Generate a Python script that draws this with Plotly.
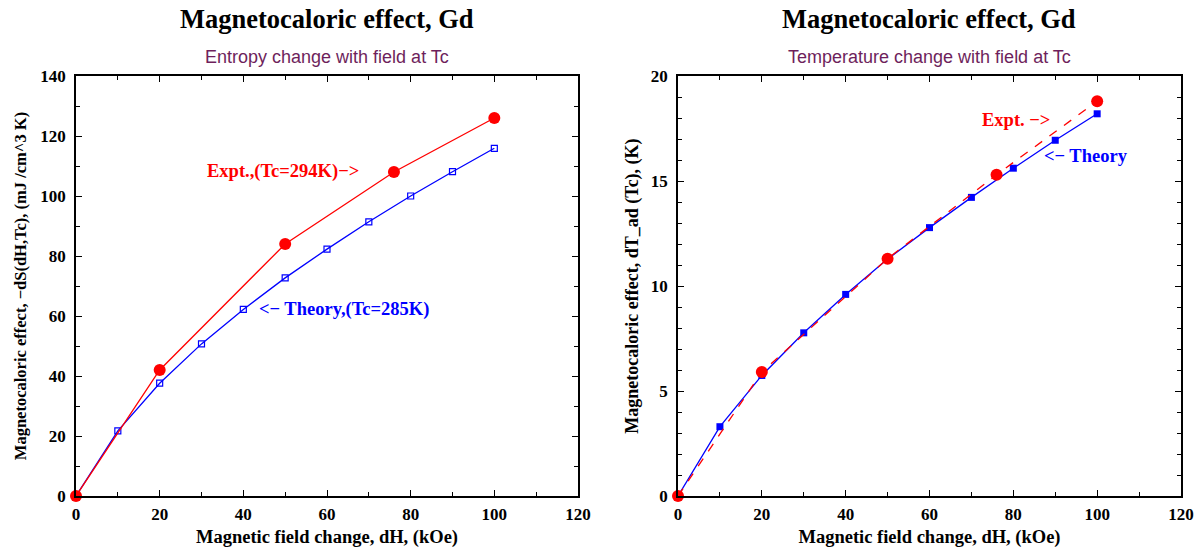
import plotly.graph_objects as go

# ---------------- data ----------------
# Left panel: entropy change -dS (mJ/cm^3 K) vs field change (kOe)
expt_dS_field = [0, 20, 50, 76, 100]
expt_dS = [0, 42, 84, 108, 126]
theory_dS_field = [0, 10, 20, 30, 40, 50, 60, 70, 80, 90, 100]
theory_dS = [0, 21.7, 37.6, 50.7, 62.2, 72.7, 82.3, 91.4, 100.0, 108.1, 115.9]

# Right panel: adiabatic temperature change dT_ad (K) vs field change (kOe)
expt_dT_field = [0, 20, 50, 76, 100]
expt_dT = [0, 5.9, 11.3, 15.3, 18.8]
theory_dT_field = [0, 10, 20, 30, 40, 50, 60, 70, 80, 90, 100]
theory_dT = [0, 3.3, 5.74, 7.77, 9.6, 11.28, 12.78, 14.22, 15.61, 16.94, 18.2]

RED = "#ff0000"
BLUE = "#0000ff"
PURPLE = "#6e1f5c"
SERIF = "Liberation Serif"
SANS = "Liberation Sans"

W, H = 1204, 548
ML, MR, MT, MB = 76, 23, 76, 52
PW = W - ML - MR
PH = H - MT - MB

fig = go.Figure()

fig.add_trace(go.Scatter(x=theory_dS_field, y=theory_dS, mode="lines+markers",
                         line=dict(color=BLUE, width=1.3),
                         marker=dict(symbol="square-open", size=6, color=BLUE, line=dict(width=1.2)),
                         xaxis="x", yaxis="y", cliponaxis=False, showlegend=False))
fig.add_trace(go.Scatter(x=expt_dS_field, y=expt_dS, mode="lines+markers",
                         line=dict(color=RED, width=1.3),
                         marker=dict(symbol="circle", size=12, color=RED),
                         xaxis="x", yaxis="y", cliponaxis=False, showlegend=False))
fig.add_trace(go.Scatter(x=theory_dT_field, y=theory_dT, mode="lines+markers",
                         line=dict(color=BLUE, width=1.3),
                         marker=dict(symbol="square", size=7, color=BLUE),
                         xaxis="x2", yaxis="y2", cliponaxis=False, showlegend=False))
fig.add_trace(go.Scatter(x=expt_dT_field, y=expt_dT, mode="lines+markers",
                         line=dict(color=RED, width=1.3, dash="dash"),
                         marker=dict(symbol="circle", size=12, color=RED),
                         xaxis="x2", yaxis="y2", cliponaxis=False, showlegend=False))

tickfont = dict(family=SERIF, size=17, color="black", weight="bold")

def xax(domain, anchor):
    return dict(domain=domain, anchor=anchor, range=[0, 120], dtick=20, tick0=0,
                ticks="inside", ticklen=6, tickwidth=1, tickcolor="black",
                minor=dict(dtick=10, ticks="inside", ticklen=4, tickcolor="black"),
                showline=True, linecolor="black", linewidth=1.5, mirror="ticks",
                showgrid=False, zeroline=False, tickfont=tickfont, automargin=False,
                ticklabelstandoff=2,
                title=dict(text="Magnetic field change, dH, (kOe)",
                           font=dict(family=SERIF, size=18.5, color="black", weight="bold"), standoff=8))

def yax(domain, anchor, rng, dt, mdt, title, size, standoff):
    return dict(domain=domain, anchor=anchor, range=rng, dtick=dt, tick0=0,
                ticks="inside", ticklen=6, tickwidth=1, tickcolor="black",
                minor=dict(dtick=mdt, ticks="inside", ticklen=4, tickcolor="black"),
                showline=True, linecolor="black", linewidth=1.5, mirror="ticks",
                showgrid=False, zeroline=False, tickfont=tickfont, automargin=False,
                ticklabelstandoff=5,
                title=dict(text=title, font=dict(family=SERIF, size=size, color="black", weight="bold"),
                           standoff=standoff))

xdom1 = [0, (578 - ML) / PW]
xdom2 = [(678 - ML) / PW, 1]

fig.update_layout(
    width=W, height=H,
    margin=dict(l=ML, r=MR, t=MT, b=MB),
    paper_bgcolor="white", plot_bgcolor="white",
    xaxis=xax(xdom1, "y"),
    yaxis=yax([0, 1], "x", [0, 140], 20, 10,
              "Magnetocaloric effect, \u2212dS(dH,Tc), (mJ /cm^3 K)", 16.5, 10),
    xaxis2=xax(xdom2, "y2"),
    yaxis2=yax([0, 1], "x2", [0, 20], 5, 1,
               "Magnetocaloric effect, dT_ad (Tc), (K)", 18, 8),
)

def py(pix):
    return (H - MB - pix) / PH

ann = []
for (x0, x1), sub in [(xdom1, "Entropy change with field at Tc"),
                      (xdom2, "Temperature change with field at Tc")]:
    xc = (x0 + x1) / 2
    ann.append(dict(text="Magnetocaloric effect, Gd", x=xc, y=py(19), xref="paper", yref="paper",
                    showarrow=False, xanchor="center", yanchor="middle",
                    font=dict(family=SERIF, size=26.5, color="black", weight="bold")))
    ann.append(dict(text=sub, x=xc, y=py(57), xref="paper", yref="paper",
                    showarrow=False, xanchor="center", yanchor="middle",
                    font=dict(family=SANS, size=18, color=PURPLE)))

lab = dict(family=SERIF, size=18.5, weight="bold")
ann.append(dict(text="Expt.,(Tc=294K)\u2212>", x=30.8, y=108.3, xref="x", yref="y", showarrow=False,
                xanchor="left", yanchor="middle", font=dict(lab, color=RED)))
ann.append(dict(text="<\u2212 Theory,(Tc=285K)", x=43.2, y=62.3, xref="x", yref="y", showarrow=False,
                xanchor="left", yanchor="middle", font=dict(lab, color=BLUE)))
ann.append(dict(text="Expt. \u2212>", x=72.1, y=17.9, xref="x2", yref="y2", showarrow=False,
                xanchor="left", yanchor="middle", font=dict(lab, color=RED)))
ann.append(dict(text="<\u2212 Theory", x=86.9, y=16.18, xref="x2", yref="y2", showarrow=False,
                xanchor="left", yanchor="middle", font=dict(lab, color=BLUE)))

fig.update_layout(annotations=ann)
fig.write_html("out.html", config={"displayModeBar": False},
               post_script="document.body.style.margin='0';")
